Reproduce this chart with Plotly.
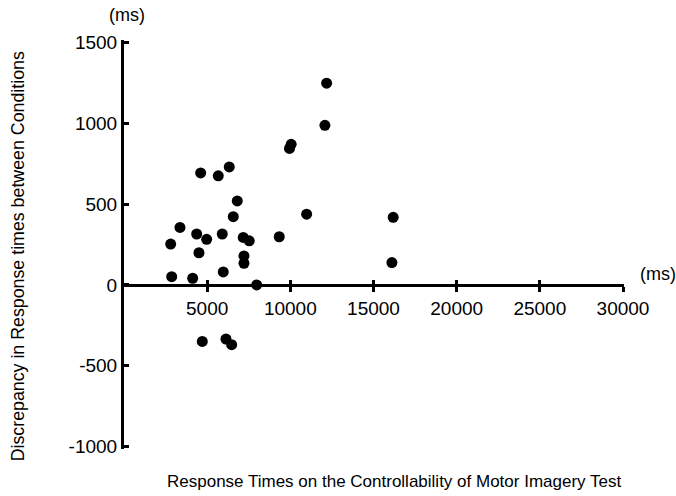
import plotly.graph_objects as go

# Data
cmi_ms = [4609, 5667, 6328, 6809, 6569, 3365, 4369, 2806, 4970, 5907,
          7169, 7530, 9333, 4507, 7212, 7212, 2867, 4129, 5967, 7975,
          4706, 6130, 6472, 12182, 12079, 9950, 10050, 10980, 16184, 16106]
discrepancy_ms = [693, 675, 730, 520, 422, 356, 315, 253, 282, 315,
                  294, 273, 298, 199, 179, 134, 51, 41, 80, 0,
                  -350, -335, -370, 1249, 988, 845, 870, 438, 418, 138]

x_ticks = [5000, 10000, 15000, 20000, 25000, 30000]
x_ticklabels = ["5000", "10000", "15000", "20000", "25000", "30000"]
y_ticks = [-1000, -500, 0, 500, 1000, 1500]
y_ticklabels = ["-1000", "-500", "0", "500", "1000", "1500"]

x_title = "Response Times on the Controllability of Motor Imagery Test"
y_title = "Discrepancy in Response times between Conditions"
unit = "(ms)"

FONT = "Liberation Sans, Arial, sans-serif"

fig = go.Figure()
fig.add_trace(go.Scatter(
    x=cmi_ms, y=discrepancy_ms, mode="markers",
    marker=dict(color="black", size=11, line=dict(width=0)),
    cliponaxis=False, showlegend=False,
))
# invisible trace to activate overlay x axis (upper half of crossing tick marks)
fig.add_trace(go.Scatter(x=[cmi_ms[0]], y=[discrepancy_ms[0]], xaxis="x2", mode="markers",
                         marker=dict(opacity=0), showlegend=False, hoverinfo="skip"))

x_lo, x_hi = 0, 30060
y_lo, y_hi = -1016, 1516
pos0 = (0 - y_lo) / (y_hi - y_lo)

fig.update_layout(
    width=676, height=496, showlegend=False,
    margin=dict(l=124, r=52, t=40, b=47),
    paper_bgcolor="white", plot_bgcolor="white",
    font=dict(family=FONT, color="black", size=19),
    xaxis=dict(
        range=[x_lo, x_hi], showgrid=False, zeroline=False,
        showline=True, linewidth=3, linecolor="black",
        anchor="free", position=pos0,
        tickvals=x_ticks, ticktext=x_ticklabels,
        ticks="outside", ticklen=5, tickwidth=3, tickcolor="black",
        tickfont=dict(size=19, family=FONT),
    ),
    xaxis2=dict(
        range=[x_lo, x_hi], overlaying="x", anchor="free", position=pos0,
        showgrid=False, zeroline=False, showline=False,
        tickvals=x_ticks, showticklabels=False,
        ticks="inside", ticklen=5, tickwidth=3, tickcolor="black",
    ),
    yaxis=dict(
        range=[y_lo, y_hi], showgrid=False, zeroline=False,
        showline=True, linewidth=3, linecolor="black",
        tickvals=y_ticks, ticktext=y_ticklabels,
        ticks="inside", ticklen=5, tickwidth=3, tickcolor="black",
        tickfont=dict(size=19, family=FONT),
    ),
    annotations=[
        dict(text=unit, xref="paper", yref="paper", x=0.006, y=1.061,
             showarrow=False, font=dict(size=18, family=FONT),
             xanchor="center", yanchor="middle"),
        dict(text=unit, xref="paper", yref="paper", x=1.068, y=0.429,
             showarrow=False, font=dict(size=18, family=FONT),
             xanchor="center", yanchor="middle"),
        dict(text=x_title, xref="paper", yref="paper", x=0.54, y=-0.08,
             showarrow=False, font=dict(size=17, family=FONT),
             xanchor="center", yanchor="middle"),
        dict(text=y_title, xref="paper", yref="paper", x=-0.212, y=0.471,
             showarrow=False, font=dict(size=17.8, family=FONT),
             textangle=-90, xanchor="center", yanchor="middle"),
    ],
)

fig.write_html("out.html")
